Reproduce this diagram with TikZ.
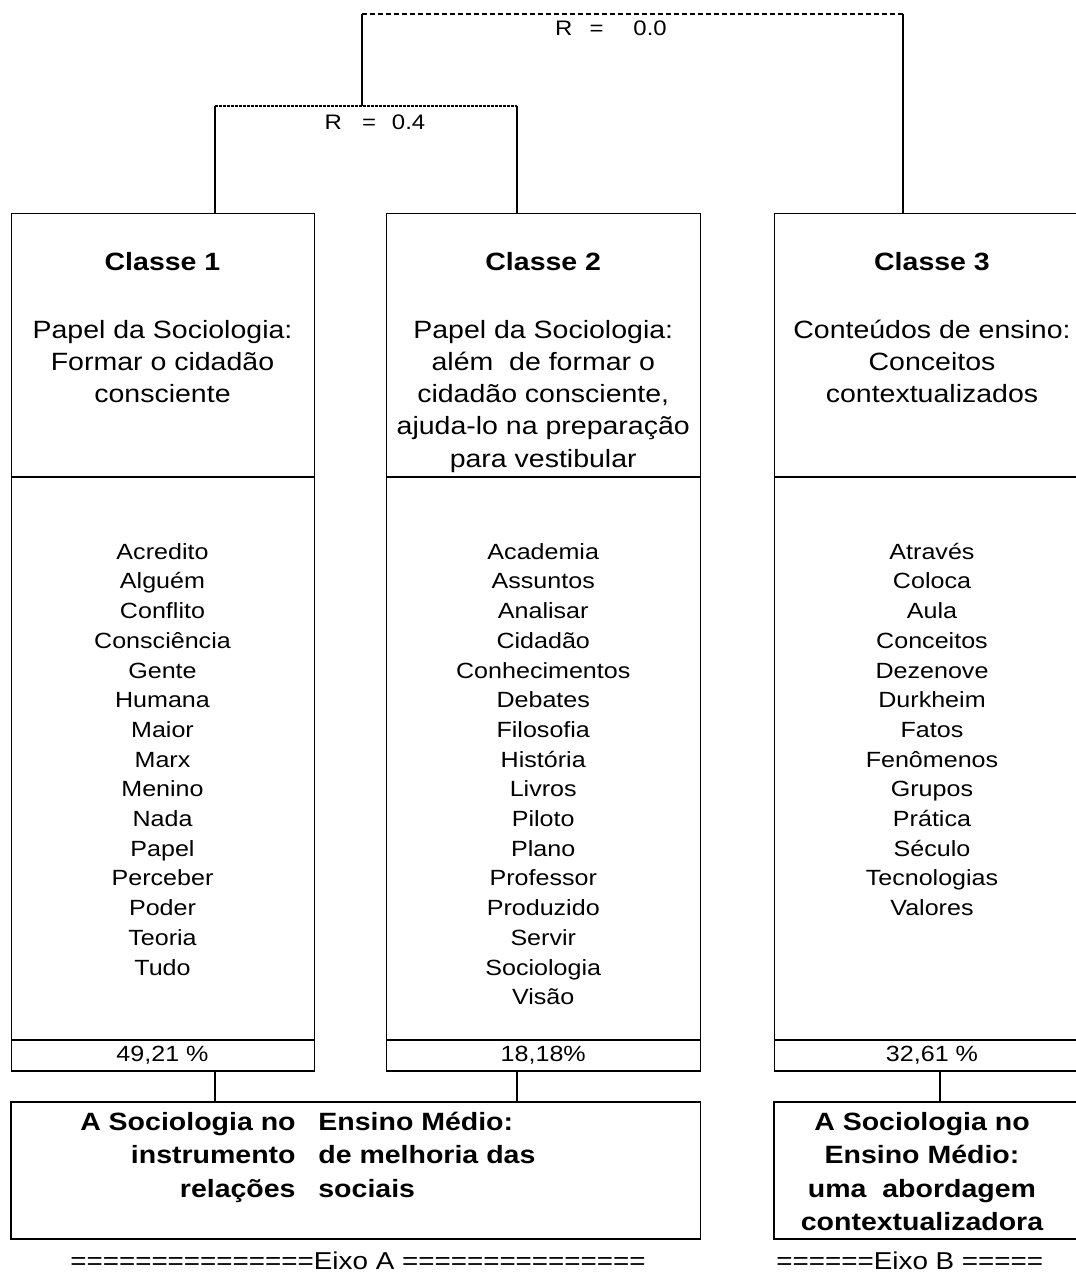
\documentclass[tikz,border=0pt]{standalone}
\usepackage{fontspec}
\setmainfont{Liberation Sans}[FakeStretch=1.14]
\usetikzlibrary{positioning,calc}

\begin{document}
\begin{tikzpicture}[x=0.5pt, y=-0.5pt,
    frame/.style={draw, line width=0.5pt, inner sep=0pt, outer sep=0pt},
    divide/.style={line width=0.9pt},
    branch/.style={line width=0.75pt},
    link/.style={line width=0.7pt, dash pattern=on 2.5pt off 1.5pt},
    linkdense/.style={line width=1pt, dash pattern=on 1.5pt off 0.5pt},
    title/.style={font=\fontsize{12.5}{16}\bfseries\selectfont, inner sep=0pt},
    theme/.style={font=\fontsize{12.5}{16.15}\selectfont, align=center, anchor=north, inner sep=0pt},
    words/.style={font=\fontsize{11}{14.85}\selectfont, align=center, anchor=north, inner sep=0pt},
    pct/.style={font=\fontsize{11}{13}\selectfont, inner sep=0pt},
    axis/.style={font=\fontsize{12.5}{16.75}\bfseries\selectfont, inner sep=0pt},
    rval/.style={font=\fontsize{10.5}{12}\selectfont, inner sep=0pt},
    eixo/.style={font=\fontsize{12.2}{14}\selectfont, inner sep=0pt}]
  \useasboundingbox (0,0) rectangle (1076,1276);
  \clip (0,0) rectangle (1076,1276);

  %class boxes: header, word list, percentage
  \foreach \i/\x/\w in {1/162.5/151.5, 2/543.25/157.25, 3/932/158}{
    \node[frame, minimum width=\w pt, minimum height=132pt] (h\i) at (\x,345) {};
    \node[frame, minimum width=\w pt, minimum height=281.5pt, below=0pt of h\i] (w\i) {};
    \node[frame, minimum width=\w pt, minimum height=15.5pt, below=0pt of w\i] (p\i) {};
    \draw[divide] (w\i.north west) -- (w\i.north east);
    \draw[divide] (p\i.north west) -- (p\i.north east) (p\i.south west) -- (p\i.south east);
  }

  %axis boxes
  \node[frame, line width=0.6pt, minimum width=344.75pt, minimum height=68.5pt] (ea) at (355.75,1170.5) {};
  \node[frame, line width=0.6pt, minimum width=158pt, minimum height=68.5pt] (eb) at (932,1170.5) {};

  %dendrogram joints
  \coordinate (k1) at (215,106);
  \coordinate (k2) at (517,106);
  \coordinate (m1) at (362,106);
  \coordinate (m0) at (362,14);
  \coordinate (k3) at (903,14);
  \draw[branch] (h1.north -| k1) -- (k1);
  \draw[branch] (h2.north -| k2) -- (k2);
  \draw[linkdense] (k1) -- (k2);
  \draw[branch] (m1) -- (m0);
  \draw[link] (m0) -- (k3);
  \draw[branch] (k3) -- (h3.north -| k3);
  \node[rval] (r0) at (611,28) {R\hspace{8.5pt}=\hspace{15pt}0.0};
  \node[rval] (r1) at (375,122) {R\hspace{10pt}=\hspace{8pt}0.4};

  %connectors down to the axes
  \coordinate (x1) at (215,0);
  \coordinate (x2) at (517,0);
  \coordinate (x3) at (940,0);
  \draw[branch] (p1.south -| x1) -- (ea.north -| x1);
  \draw[branch] (p2.south -| x2) -- (ea.north -| x2);
  \draw[branch] (p3.south -| x3) -- (eb.north -| x3);

  %headers
  \node[title] (c1) at ($(h1.north)+(0,49)$) {Classe 1};
  \node[title] (c2) at ($(h2.north)+(0,49)$) {Classe 2};
  \node[title] (c3) at ($(h3.north)+(0,49)$) {Classe 3};
  \node[theme] (s1) at ($(h1.north)+(0,102)$) {\strut Papel da Sociologia:\\Formar o cidadão\\consciente};
  \node[theme] (s2) at ($(h2.north)+(0,102)$) {\strut Papel da Sociologia:\\além\ \ de formar o\\cidadão consciente,\\ajuda-lo na preparação\\para vestibular};
  \node[theme] (s3) at ($(h3.north)+(0,102)$) {\strut Conteúdos de ensino:\\Conceitos\\contextualizados};

  %word lists
  \node[words] (l1) at ($(w1.north)+(0,61)$) {\strut Acredito\\Alguém\\Conflito\\Consciência\\Gente\\Humana\\Maior\\Marx\\Menino\\Nada\\Papel\\Perceber\\Poder\\Teoria\\Tudo};
  \node[words] (l2) at ($(w2.north)+(0,61)$) {\strut Academia\\Assuntos\\Analisar\\Cidadão\\Conhecimentos\\Debates\\Filosofia\\História\\Livros\\Piloto\\Plano\\Professor\\Produzido\\Servir\\Sociologia\\Visão};
  \node[words] (l3) at ($(w3.north)+(0,61)$) {\strut Através\\Coloca\\Aula\\Conceitos\\Dezenove\\Durkheim\\Fatos\\Fenômenos\\Grupos\\Prática\\Século\\Tecnologias\\Valores};

  %percentages
  \node[pct] (q1) at (p1) {49,21 \%};
  \node[pct] (q2) at (p2) {18,18\%};
  \node[pct] (q3) at (p3) {32,61 \%};

  %axis texts
  \node[axis, align=right, anchor=north east] (ta) at ($(ea.north west)+(285,4.5)$) {\strut A Sociologia no\\instrumento\\relações};
  \node[axis, align=left, anchor=north west] (tb) at ($(ta.north east)+(22,0)$) {\strut Ensino Médio:\\de melhoria das\\sociais};
  \node[axis, align=center, anchor=north] (tc) at ($(eb.north)+(-10,4.5)$) {\strut A Sociologia no\\Ensino Médio:\\uma\ \ abordagem\\contextualizadora};
  \node[eixo] (ax) at (358,1261) {===============Eixo A ===============};
  \node[eixo, anchor=west] (bx) at (776,1261) {======Eixo B =====};
\end{tikzpicture}
\end{document}
